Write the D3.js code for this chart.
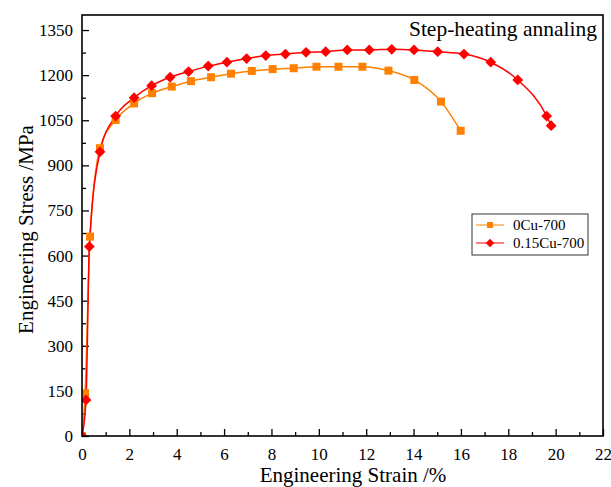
<!DOCTYPE html>
<head>
<meta charset="utf-8">
<style>
body {
  margin: 0;
  background: #fff;
}
svg text {
  font-family: "Liberation Serif", "Times New Roman", serif;
}
</style>
</head>
<body>
<script src="https://d3js.org/d3.v7.min.js"></script>
<script>
// strain (%) and stress (MPa)
var strain0Cu = [0, 0.13, 0.34, 0.76, 1.42, 2.20, 2.96, 3.79, 4.60, 5.45, 6.29, 7.17, 8.05, 8.94, 9.90, 10.83, 11.84, 12.94, 14.03, 15.16, 15.99];
var stress0Cu = [0, 142, 663, 957, 1051, 1106, 1140, 1162, 1180, 1193, 1205, 1214, 1220, 1223, 1228, 1228, 1228, 1215, 1184, 1112, 1015];

var strain15Cu = [0, 0.17, 0.31, 0.76, 1.42, 2.20, 2.94, 3.72, 4.50, 5.33, 6.12, 6.95, 7.76, 8.59, 9.46, 10.29, 11.20, 12.13, 13.08, 14.02, 15.02, 16.13, 17.26, 18.40, 19.62, 19.81];
var stress15Cu = [0, 120, 630, 945, 1064, 1125, 1165, 1193, 1212, 1230, 1243, 1255, 1265, 1270, 1276, 1278, 1284, 1284, 1286, 1284, 1278, 1270, 1243, 1184, 1064, 1032];

var seriesNames = ["0Cu-700", "0.15Cu-700"];
var seriesColors = ["#ff8000", "#ff0000"];
var xTicks = [0, 2, 4, 6, 8, 10, 12, 14, 16, 18, 20, 22];
var yTicks = [0, 150, 300, 450, 600, 750, 900, 1050, 1200, 1350];
var titleText = "Step-heating annaling";

(function() {
  var W = 611, H = 487,
      margin = {top: 15, right: 8, bottom: 51, left: 82},
      w = W - margin.left - margin.right,
      h = H - margin.top - margin.bottom,
      serif = "'Liberation Serif', 'Times New Roman', serif";

  var svg = d3.select("body").append("svg")
    .attr("width", W)
    .attr("height", H)
    .attr("font-family", serif);

  var g = svg.append("g")
    .attr("transform", "translate(" + margin.left + "," + margin.top + ")");

  var sx = d3.scaleLinear().domain([0, 22]).range([0, w]);
  var sy = d3.scaleLinear().domain([0, 1400]).range([h, 0]);

  svg.append("defs").append("clipPath").attr("id", "clip")
    .append("rect").attr("width", w).attr("height", h);

  //
  // minor ticks
  //
  var xMinor = d3.range(1, 22, 2);
  var yMinor = d3.range(75, 1400, 150);

  g.append("g")
    .attr("transform", "translate(0," + h + ")")
    .call(d3.axisBottom(sx).tickValues(xMinor).tickSize(-4).tickFormat(""))
    .call(function(s) { s.select(".domain").remove(); })
    .selectAll("line").attr("stroke-width", 1.3);

  g.append("g")
    .call(d3.axisLeft(sy).tickValues(yMinor).tickSize(-4).tickFormat(""))
    .call(function(s) { s.select(".domain").remove(); })
    .selectAll("line").attr("stroke-width", 1.3);

  //
  // major axes
  //
  var xAxis = g.append("g")
    .attr("transform", "translate(0," + h + ")")
    .call(d3.axisBottom(sx).tickValues(xTicks).tickSize(-7).tickPadding(12).tickFormat(d3.format("d")));
  xAxis.attr("font-family", serif);
  xAxis.select(".domain").remove();
  xAxis.selectAll("line").attr("stroke-width", 1.3);
  xAxis.selectAll("text").attr("font-size", 17).attr("fill", "#000");

  var yAxis = g.append("g")
    .call(d3.axisLeft(sy).tickValues(yTicks).tickSize(-7).tickPadding(9).tickFormat(d3.format("d")));
  yAxis.attr("font-family", serif);
  yAxis.select(".domain").remove();
  yAxis.selectAll("line").attr("stroke-width", 1.3);
  yAxis.selectAll("text").attr("font-size", 17).attr("fill", "#000");

  //
  // curves
  //
  var series = [
    {name: seriesNames[0], color: seriesColors[0], x: strain0Cu, y: stress0Cu, rot: 0, size: 64},
    {name: seriesNames[1], color: seriesColors[1], x: strain15Cu, y: stress15Cu, rot: 45, size: 58}
  ];

  var line = d3.line()
    .x(function(d) { return sx(d[0]); })
    .y(function(d) { return sy(d[1]); })
    .curve(d3.curveMonotoneX);

  var plot = g.append("g").attr("clip-path", "url(#clip)");

  series.forEach(function(s) {
    var pts = s.x.map(function(x, i) { return [x, s.y[i]]; });
    plot.append("path")
      .attr("d", line(pts))
      .attr("fill", "none")
      .attr("stroke", s.color)
      .attr("stroke-width", 1.5);
  });

  series.forEach(function(s) {
    var pts = s.x.map(function(x, i) { return [x, s.y[i]]; });
    plot.selectAll(null)
      .data(pts)
      .enter().append("path")
      .attr("transform", function(d) { return "translate(" + sx(d[0]) + "," + sy(d[1]) + ") rotate(" + s.rot + ")"; })
      .attr("d", d3.symbol().type(d3.symbolSquare).size(s.size))
      .attr("fill", s.color);
  });

  // frame
  g.append("rect")
    .attr("width", w).attr("height", h)
    .attr("fill", "none")
    .attr("stroke", "#000")
    .attr("stroke-width", 1.6);

  //
  // legend
  //
  var lg = svg.append("g").attr("transform", "translate(472,214)");
  lg.append("rect")
    .attr("width", 116).attr("height", 41)
    .attr("fill", "#fff")
    .attr("stroke", "#333")
    .attr("stroke-width", 1);

  series.forEach(function(s, i) {
    var yy = 11 + i * 18;
    lg.append("line")
      .attr("x1", 4).attr("x2", 32)
      .attr("y1", yy).attr("y2", yy)
      .attr("stroke", s.color).attr("stroke-width", 1);
    lg.append("path")
      .attr("transform", "translate(18," + yy + ") rotate(" + s.rot + ")")
      .attr("d", d3.symbol().type(d3.symbolSquare).size(36))
      .attr("fill", s.color);
    lg.append("text")
      .attr("x", 41).attr("y", yy + 5)
      .attr("font-size", 15)
      .text(s.name);
  });

  //
  // titles
  //
  svg.append("text")
    .attr("x", 597).attr("y", 36)
    .attr("text-anchor", "end")
    .attr("font-size", 21.5)
    .text(titleText);

  svg.append("text")
    .attr("x", 353).attr("y", 482)
    .attr("text-anchor", "middle")
    .attr("font-size", 21)
    .text("Engineering Strain /%");

  svg.append("text")
    .attr("transform", "translate(33," + (margin.top + h / 2 + 4) + ") rotate(-90)")
    .attr("text-anchor", "middle")
    .attr("font-size", 21)
    .text("Engineering Stress /MPa");
})();
</script>
</body>
